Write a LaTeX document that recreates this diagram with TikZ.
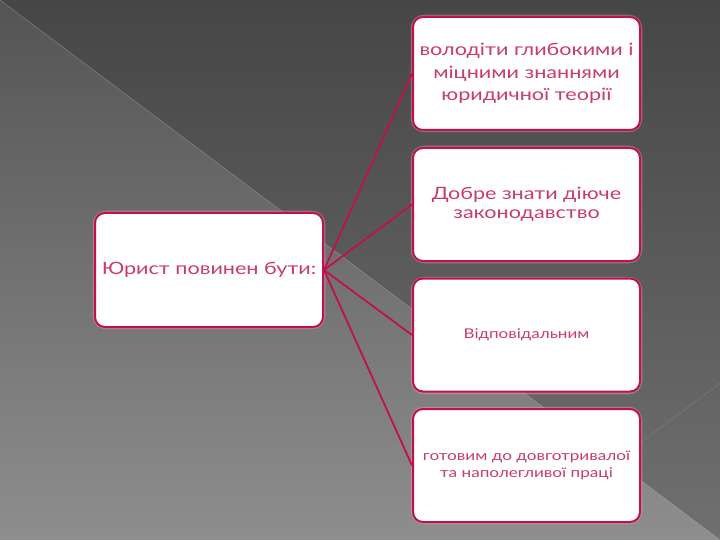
\documentclass[tikz,border=0pt]{standalone}
\usepackage{fontspec}
\newfontfamily\cg[FakeStretch=1.27]{Lato}
\usetikzlibrary{positioning}
\definecolor{crim}{RGB}{192,18,72}
\definecolor{txtc}{RGB}{200,60,110}
\definecolor{bgA}{RGB}{70,70,70}
\definecolor{bgB}{RGB}{112,112,112}
\definecolor{bgC}{RGB}{84,84,84}
\definecolor{bgD}{RGB}{142,142,142}
\tikzset{
  card/.style={draw=crim, line width=2pt, fill=white, rounded corners=10pt,
    minimum width=227pt, minimum height=113pt, align=center, text=txtc,
    inner sep=4pt},
  link/.style={draw=crim, line width=1.8pt},
  glow/.style={draw=crim!40, line width=4.5pt, opacity=.45, rounded corners=11pt}
}
\begin{document}
\begin{tikzpicture}[x=1pt,y=-1pt]
\useasboundingbox (0,0) rectangle (720,540);
% background
\shade[top color=bgC, bottom color=bgD] (0,0) -- (720,540) -- (0,540) -- cycle;
\shade[top color=bgA, bottom color=bgB] (0,0) -- (720,0) -- (720,540) -- cycle;
\draw[white, opacity=.12, line width=0.7pt] (0,0) -- (720,540);
\draw[white, opacity=.12, line width=0.7pt] (720,383) -- (560,503);
% glows
\foreach \y in {17,148,279,409} {\draw[glow] (413,\y) rectangle (640,\y+113);}
\draw[glow] (95,213) rectangle (323,327);
% nodes
\node[card, minimum width=228pt, minimum height=114pt,
  font={\cg\fontsize{17}{20}\selectfont}] (L) at (209,270)
  {Юрист повинен бути:};
\node[card, font={\cg\fontsize{17}{22.5}\selectfont}] (r1) at (526.5,73.5)
  {володіти глибокими і\\міцними знаннями\\юридичної теорії};
\node[card, font={\cg\fontsize{17}{19.5}\selectfont}] (r2) at (526.5,204.5)
  {Добре знати діюче\\законодавство};
\node[card, font={\cg\fontsize{13.4}{15}\selectfont}] (r3) at (526.5,335)
  {Відповідальним};
\node[card, font={\cg\fontsize{13.5}{17}\selectfont}] (r4) at (526.5,465.5)
  {готовим до довготривалої\\та наполегливої праці};
% connectors
\foreach \n in {r1,r2,r3,r4} {\draw[link] (L.east) -- (\n.west);}
\end{tikzpicture}
\end{document}
